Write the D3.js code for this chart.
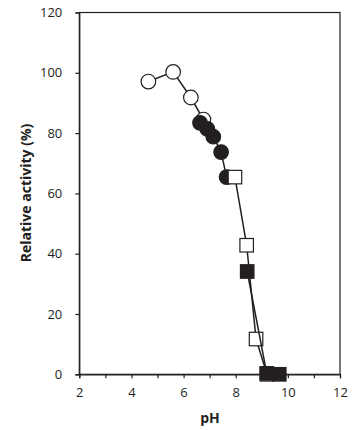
<!DOCTYPE html>
<html><head><meta charset="utf-8">
<script src="https://cdn.jsdelivr.net/npm/d3@7"></script>
<style>body{margin:0;background:#fff}svg{display:block}</style>
</head><body><svg id="c" width="361" height="430"></svg>
<script>
const xTicks = [2,3,4,5,6,7,8,9,10,11,12];
const xTickLabels = [2,4,6,8,10,12];
const yTicks = [0,20,40,60,80,100,120];
const openCircles = [[4.65,97.1],[5.6,100.3],[6.28,91.8],[6.76,84.5]];
const closedCircles = [[6.63,83.4],[6.91,81.4],[7.14,78.8],[7.44,73.7],[7.65,65.4]];
const openSquares = [[7.97,65.4],[8.42,42.8],[8.78,11.7],[9.2,0]];
const closedSquares = [[8.44,34.1],[9.19,0.3],[9.67,0]];

const ink = "#231f20";
const svg = d3.select("#c");
const L=79.3, R=340, T=12.5, B=374.3;
const x = d3.scaleLinear().domain([2,12]).range([L,R]);
const y = d3.scaleLinear().domain([0,120]).range([B,T]);
const font = "'Open Sans', sans-serif";

// frame
svg.append("rect").attr("x",L).attr("y",T).attr("width",R-L).attr("height",B-T)
  .attr("fill","none").attr("stroke",ink).attr("stroke-width",1.2);

// x axis
const xa = svg.append("g").attr("transform",`translate(0,${B})`)
  .call(d3.axisBottom(x).tickValues(xTicks).tickSize(4).tickFormat(d=>xTickLabels.includes(d)?d:""));
xa.select(".domain").attr("stroke",ink).attr("stroke-width",1.2);
xa.selectAll(".tick line").attr("stroke",ink).attr("stroke-width",1.2);
xa.selectAll("text").attr("fill","#231f20").attr("font-family",font).attr("font-size",13).attr("dy","0.71em").attr("y",13);

// y axis
const ya = svg.append("g").attr("transform",`translate(${L},0)`)
  .call(d3.axisLeft(y).tickValues(yTicks).tickSize(4));
ya.select(".domain").attr("stroke",ink).attr("stroke-width",1.2);
ya.selectAll(".tick line").attr("stroke",ink).attr("stroke-width",1.2);
ya.selectAll("text").attr("fill","#231f20").attr("font-family",font).attr("font-size",13).attr("x",-17);

// labels
svg.append("text").attr("x",210).attr("y",423).attr("text-anchor","middle")
  .attr("font-family",font).attr("font-weight","bold").attr("font-size",14).attr("fill",ink).text("pH");
svg.append("text").attr("transform","translate(31,193) rotate(-90)").attr("text-anchor","middle")
  .attr("font-family",font).attr("font-weight","bold").attr("font-size",14).attr("fill",ink).text("Relative activity (%)");

const line = d3.line().x(d=>x(d[0])).y(d=>y(d[1]));
function series(data, shape, filled){
  const g = svg.append("g");
  g.append("path").attr("d",line(data)).attr("fill","none").attr("stroke",ink).attr("stroke-width",1.5);
  if(shape==="circle"){
    g.selectAll("circle").data(data).join("circle")
      .attr("cx",d=>x(d[0])).attr("cy",d=>y(d[1])).attr("r",7.3)
      .attr("fill",filled?ink:"#fff").attr("stroke",ink).attr("stroke-width",1.2);
  } else {
    const s=13.5;
    g.selectAll("rect").data(data).join("rect")
      .attr("x",d=>x(d[0])-s/2).attr("y",d=>y(d[1])-s/2).attr("width",s).attr("height",s)
      .attr("fill",filled?ink:"#fff").attr("stroke",ink).attr("stroke-width",1.2);
  }
}
series(openCircles,"circle",false);
series(closedCircles,"circle",true);
series(openSquares,"square",false);
series(closedSquares,"square",true);
</script></body></html>
